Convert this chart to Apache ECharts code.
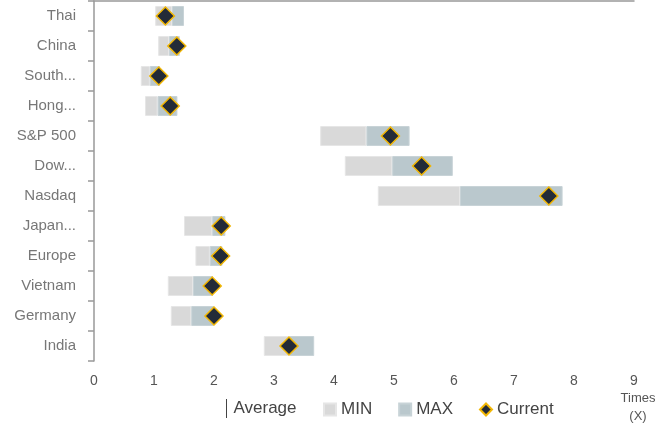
<!DOCTYPE html>
<html>
<head>
<meta charset="utf-8" />
<title>Valuation range</title>
<script src="https://cdn.jsdelivr.net/npm/echarts@6/dist/echarts.min.js"></script>
<style>
	html, body { margin: 0; padding: 0; background: #fff; }
	#main { width: 670px; height: 426px; }
</style>
</head>
<body>
<div id="main"></div>
<script>
	// 数据
	var categories = ['Thai', 'China', 'South...', 'Hong...', 'S&P 500', 'Dow...', 'Nasdaq', 'Japan...', 'Europe', 'Vietnam', 'Germany', 'India'];
	var minVals = [1.02, 1.07, 0.78, 0.85, 3.77, 4.18, 4.73, 1.50, 1.69, 1.23, 1.28, 2.83];
	var avgVals = [1.30, 1.25, 0.93, 1.06, 4.54, 4.97, 6.10, 1.97, 1.93, 1.65, 1.62, 3.26];
	var maxVals = [1.50, 1.43, 1.10, 1.39, 5.26, 5.98, 7.81, 2.19, 2.14, 1.98, 2.00, 3.67];
	var currentVals = [1.19, 1.38, 1.08, 1.27, 4.94, 5.46, 7.58, 2.12, 2.11, 1.97, 2.00, 3.25];
	var xTicks = [0, 1, 2, 3, 4, 5, 6, 7, 8, 9];

	var fontFam = 'Liberation Sans, Arial, sans-serif';

	var baseData = minVals.map(function(v) { return v; });
	var minSeg = avgVals.map(function(v, i) { return +(v - minVals[i]).toFixed(2); });
	var maxSeg = maxVals.map(function(v, i) { return +(v - avgVals[i]).toFixed(2); });

	var legendText = { color: '#444', fontSize: 17, fontFamily: fontFam };

	var myChart = echarts.init(document.getElementById('main'));
	var option = {
		animation: false,
		textStyle: { fontFamily: fontFam },
		grid: { left: 94, right: 36, top: 1, bottom: 65, outerBoundsMode: 'none', containLabel: false },
		legend: [{
			left: 221,
			top: 394,
			itemWidth: 4,
			itemHeight: 19,
			itemGap: 26,
			textStyle: legendText,
			data: [
				{ name: 'Average', icon: 'path://M0,0h1v19h-1z', itemStyle: { color: '#444', opacity: 1, borderWidth: 0 } }
			]
		}, {
			left: 318,
			top: 396,
			itemWidth: 12,
			itemHeight: 12,
			itemGap: 26,
			textStyle: legendText,
			data: [
				{ name: 'MIN', icon: 'rect' },
				{ name: 'MAX', icon: 'rect' },
				{ name: 'Current', icon: 'diamond' }
			]
		}],
		graphic: [{
			type: 'text',
			x: 638,
			y: 389,
			style: {
				text: 'Times\n(X)',
				fill: '#555',
				fontSize: 13,
				lineHeight: 18,
				fontFamily: fontFam,
				align: 'center'
			}
		}],
		xAxis: [{
			type: 'value',
			min: xTicks[0],
			max: xTicks[xTicks.length - 1],
			interval: 1,
			position: 'bottom',
			axisLine: { show: false },
			axisTick: { show: false },
			splitLine: { show: false },
			axisLabel: { color: '#555', fontSize: 14, margin: 13 }
		}, {
			type: 'value',
			min: xTicks[0],
			max: xTicks[xTicks.length - 1],
			position: 'top',
			axisLine: { show: true, lineStyle: { color: '#999', width: 1.5 } },
			axisTick: { show: false },
			axisLabel: { show: false },
			splitLine: { show: false }
		}],
		yAxis: {
			type: 'category',
			data: categories,
			inverse: true,
			axisLine: { show: true, lineStyle: { color: '#999', width: 1.5 } },
			axisTick: { show: true, length: 6, lineStyle: { color: '#999', width: 1.5 } },
			axisLabel: { color: '#777', fontSize: 15, margin: 18 }
		},
		series: [{
			name: 'base',
			type: 'bar',
			stack: 'range',
			barWidth: 20,
			silent: true,
			itemStyle: { color: 'transparent' },
			data: baseData
		}, {
			name: 'MIN',
			type: 'bar',
			stack: 'range',
			barWidth: 20,
			itemStyle: { color: '#d9d9d9', borderColor: '#e6e6e6', borderWidth: 1 },
			data: minSeg
		}, {
			name: 'MAX',
			type: 'bar',
			stack: 'range',
			barWidth: 20,
			itemStyle: { color: '#bac8cd', borderColor: '#c8d3d7', borderWidth: 1 },
			data: maxSeg
		}, {
			name: 'Average',
			type: 'scatter',
			symbol: 'rect',
			symbolSize: [1, 20],
			itemStyle: { color: '#444', opacity: 0 },
			data: avgVals.map(function(v, i) { return [v, i]; })
		}, {
			name: 'Current',
			type: 'scatter',
			symbol: 'diamond',
			symbolSize: 18,
			z: 5,
			itemStyle: { color: '#232b38', borderColor: '#f2b705', borderWidth: 1.5, opacity: 1 },
			data: currentVals.map(function(v, i) { return [v, i]; })
		}]
	};
	myChart.setOption(option);
</script>
</body>
</html>
